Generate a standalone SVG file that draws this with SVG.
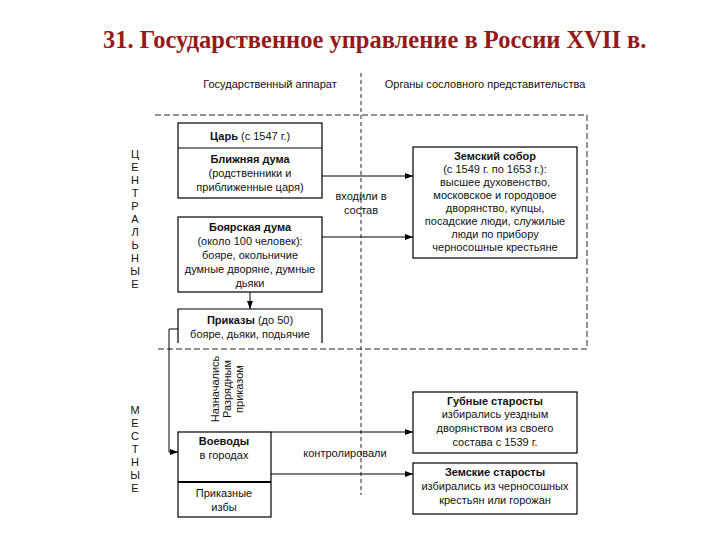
<svg xmlns="http://www.w3.org/2000/svg" width="720" height="540" viewBox="0 0 720 540">
<style>
.t{font-family:"Liberation Sans",Arial,sans-serif;font-size:11px;fill:#111;text-anchor:middle}
.b{font-weight:bold}
.box{fill:#fff;stroke:#000;stroke-width:1.2}
.ln{fill:none;stroke:#000;stroke-width:1}
.dash{fill:none;stroke:#222;stroke-width:1;stroke-dasharray:6,3}
.vd{fill:none;stroke:#222;stroke-width:1;stroke-dasharray:4,3}
.title{font-family:"Liberation Serif","Times New Roman",serif;font-size:24.5px;font-weight:bold;fill:#971818}
.lt{font-family:"Liberation Sans",Arial,sans-serif;font-size:11px;fill:#111;text-anchor:middle}
</style>
<defs>
<marker id="ah" markerWidth="8" markerHeight="6" refX="8" refY="3" orient="auto" markerUnits="userSpaceOnUse">
<path d="M0,0 L8,3 L0,6 Z" fill="#000"/>
</marker>
</defs>
<rect width="720" height="540" fill="#fff"/>
<text class="title" x="103" y="48">31.  Государственное управление в России XVII в.</text>

<g id="frame">
<text class="t" x="270" y="88">Государственный аппарат</text>
<text class="t" x="485" y="88">Органы сословного представительства</text>
<path class="dash" d="M155,115 H587 V349 H155"/>
<path class="vd" d="M361,73 V495"/>
<g class="lt">
<text x="135" y="158">Ц</text><text x="135" y="171">Е</text><text x="135" y="184">Н</text><text x="135" y="197">Т</text><text x="135" y="210">Р</text><text x="135" y="223">А</text><text x="135" y="236">Л</text><text x="135" y="249">Ь</text><text x="135" y="262">Н</text><text x="135" y="275">Ы</text><text x="135" y="288">Е</text>
<text x="135" y="414">М</text><text x="135" y="427">Е</text><text x="135" y="440">С</text><text x="135" y="453">Т</text><text x="135" y="466">Н</text><text x="135" y="479">Ы</text><text x="135" y="492">Е</text>
</g>
</g>

<g id="connectors">
<path class="ln" d="M322,176 H413" marker-end="url(#ah)"/>
<path class="ln" d="M322,237 H413" marker-end="url(#ah)"/>
<path class="ln" d="M250,292 V309" marker-end="url(#ah)"/>
<path class="ln" d="M178,329 H169 V452 H178" marker-end="url(#ah)"/>
<path class="ln" d="M271,432 H413" marker-end="url(#ah)"/>
<path class="ln" d="M271,474 H413" marker-end="url(#ah)"/>
<text class="t" x="361" y="200">входили в</text>
<text class="t" x="361" y="214">состав</text>
<text class="t" x="345" y="457">контролировали</text>
<g transform="translate(219,389) rotate(-90)">
<text class="t" x="0" y="0">Назначались</text>
<text class="t" x="0" y="12">Разрядным</text>
<text class="t" x="0" y="24">приказом</text>
</g>
</g>

<g id="tsar">
<rect class="box" x="178" y="123" width="144" height="75"/>
<path class="ln" d="M178,148 H322"/>
<text class="t" x="250" y="140"><tspan class="b">Царь</tspan> (с 1547 г.)</text>
</g>
<g id="blizhnyaya">
<text class="t b" x="250" y="163">Ближняя дума</text>
<text class="t" x="250" y="177">(родственники и</text>
<text class="t" x="250" y="191">приближенные царя)</text>
</g>
<g id="boyarskaya">
<rect class="box" x="178" y="217" width="144" height="75"/>
<text class="t b" x="250" y="231">Боярская дума</text>
<text class="t" x="250" y="245">(около 100 человек):</text>
<text class="t" x="250" y="259">бояре, окольничие</text>
<text class="t" x="250" y="273">думные дворяне, думные</text>
<text class="t" x="250" y="287">дьяки</text>
</g>
<g id="prikazy">
<path class="box" d="M178,343 V309 H322 V343"/>
<text class="t" x="250" y="324"><tspan class="b">Приказы</tspan> (до 50)</text>
<text class="t" x="250" y="338">бояре, дьяки, подьячие</text>
</g>
<g id="voevody">
<rect class="box" x="178" y="432" width="93" height="85"/>
<path d="M178,482 H271" stroke="#000" stroke-width="2"/>
<text class="t b" x="224" y="445">Воеводы</text>
<text class="t" x="224" y="459">в городах</text>
</g>
<g id="prikaznye">
<text class="t" x="224" y="497">Приказные</text>
<text class="t" x="224" y="511">избы</text>
</g>
<g id="zemsky-sobor">
<rect class="box" x="413" y="147" width="164" height="111"/>
<text class="t b" x="495" y="160">Земский собор</text>
<text class="t" x="495" y="173">(с 1549 г. по 1653 г.):</text>
<text class="t" x="495" y="186">высшее духовенство,</text>
<text class="t" x="495" y="199">московское и городовое</text>
<text class="t" x="495" y="212">дворянство, купцы,</text>
<text class="t" x="495" y="225">посадские люди, служилые</text>
<text class="t" x="495" y="238">люди по прибору</text>
<text class="t" x="495" y="251">черносошные крестьяне</text>
</g>
<g id="gubnye">
<rect class="box" x="413" y="392" width="164" height="61"/>
<text class="t b" x="495" y="405">Губные старосты</text>
<text class="t" x="495" y="418">избирались уездным</text>
<text class="t" x="495" y="432">дворянством из своего</text>
<text class="t" x="495" y="446">состава с 1539 г.</text>
</g>
<g id="zemskie">
<rect class="box" x="413" y="463" width="164" height="51"/>
<text class="t b" x="495" y="476">Земские старосты</text>
<text class="t" x="495" y="490">избирались из черносошных</text>
<text class="t" x="495" y="504">крестьян или горожан</text>
</g>
</svg>
